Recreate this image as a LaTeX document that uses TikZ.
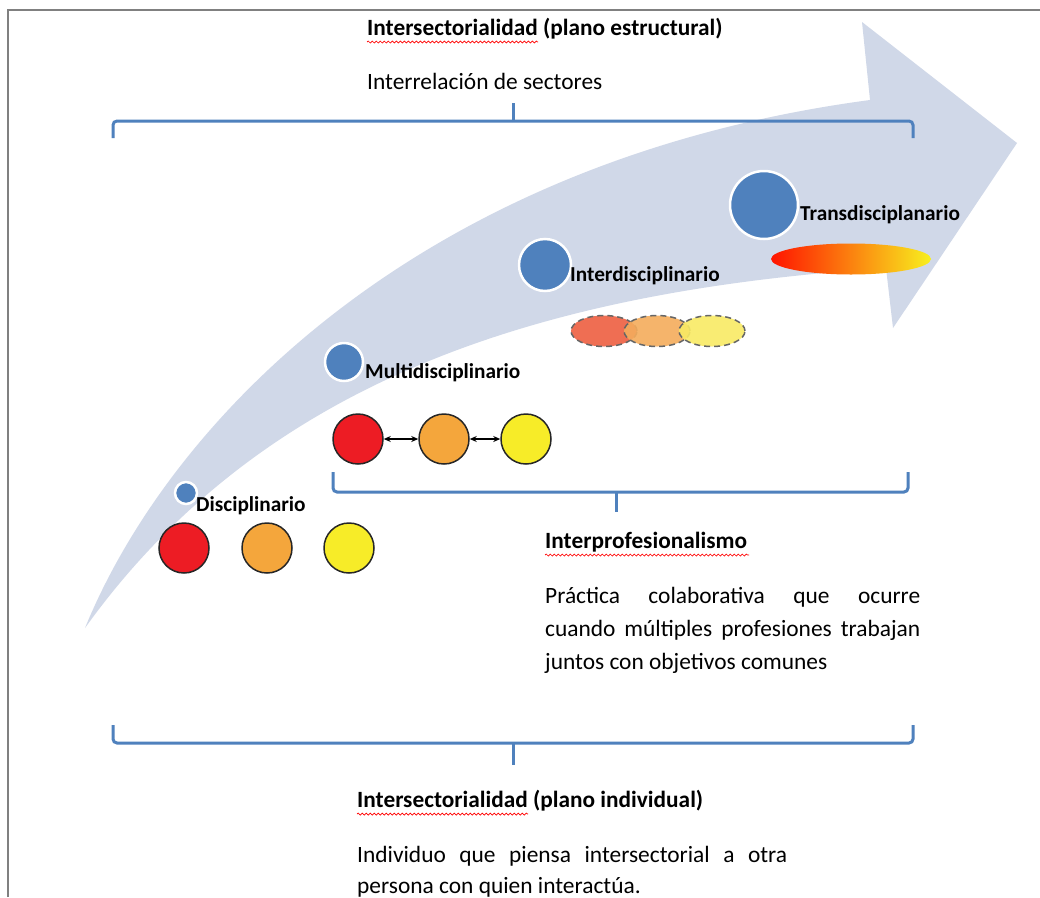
\documentclass[tikz,border=0pt]{standalone}
\usepackage{fontspec}
\setmainfont{Carlito}
\usetikzlibrary{shapes.geometric,decorations.pathmorphing,arrows.meta}
\definecolor{band}{RGB}{208,216,232}
\definecolor{bblue}{RGB}{79,129,189}
\definecolor{cred}{RGB}{237,28,36}
\definecolor{corange}{RGB}{244,166,60}
\definecolor{cyellow}{RGB}{247,236,40}
\definecolor{framec}{RGB}{128,128,128}
\definecolor{ered}{RGB}{238,95,65}
\definecolor{eorange}{RGB}{244,172,92}
\definecolor{eyellow}{RGB}{249,234,100}
\definecolor{gred}{RGB}{255,20,0}
\definecolor{gmid}{RGB}{248,130,20}
\definecolor{gyel}{RGB}{248,240,30}
\begin{document}
\begin{tikzpicture}[x=1pt,y=-1pt,
 brace/.style={draw=bblue, line width=3pt, rounded corners=4pt},
 tick/.style={draw=bblue, line width=3pt},
 dot/.style={circle, fill=bblue, draw=white, line width=2.5pt, inner sep=0pt},
 disc/.style={circle, draw=black!85, line width=1.5pt, inner sep=0pt, minimum size=50pt},
 lbl/.style={anchor=base west, inner sep=0pt, font=\fontsize{21.3}{24}\selectfont\bfseries},
 head/.style={anchor=base west, inner sep=0pt, font=\fontsize{23.3}{33}\selectfont\bfseries},
 body/.style={anchor=base west, inner sep=0pt, font=\fontsize{23.4}{33}\selectfont},
 wavy/.style={draw=red, line width=0.7pt, decorate, decoration={snake, segment length=4pt, amplitude=1pt}},
 ell/.style={ellipse, draw=black!60, dash pattern=on 6pt off 4pt, line width=1.5pt, inner sep=0pt, minimum width=66pt, minimum height=31pt, fill opacity=0.9},
 dbl/.style={{Stealth[length=7pt,width=6pt]}-{Stealth[length=7pt,width=6pt]}, line width=1.3pt, black}]
\useasboundingbox (0,0) rectangle (1040,897);
\fill[white] (0,0) rectangle (1040,897);
\draw[framec, line width=1.5pt] (8,897) -- (8,10) -- (1040,10);
% big curved arrow
\fill[band] (85,628) .. controls (170,420) and (420,160) .. (870,100) -- (862,22) -- (1017,143) -- (893,328) -- (886,268) .. controls (560,290) and (270,370) .. (85,628) -- cycle;
% braces
\draw[brace] (113,138) |- (513,121) -| (913,138);
\draw[tick] (513,122) -- (513,103);
\draw[brace] (333,472) |- (616,492) -| (908,472);
\draw[tick] (616,491) -- (616,512);
\draw[brace] (113,725) |- (513,743) -| (913,725);
\draw[tick] (513,742) -- (513,765);
% top texts
\node[head] (t1) at (367,35) {Intersectorialidad (plano estructural)};
\draw[wavy] (367,42) -- (538,42);
\node[body] (t2) at (367,89) {Interrelación de sectores};
% blue dots and labels
\node[dot, minimum size=22pt] (dd) at (186,493) {};
\node[lbl] (ld) at (196,511) {Disciplinario};
\node[dot, minimum size=38pt] (dm) at (344,362) {};
\node[lbl] (lm) at (365,378) {Multidisciplinario};
\node[dot, minimum size=52pt] (di) at (545,265) {};
\node[lbl] (li) at (570,281) {Interdisciplinario};
\node[dot, minimum size=68pt] (dt) at (764,205) {};
\node[lbl] (lt) at (800,220) {Transdisciplanario};
% disciplinary circles
\node[disc, fill=cred] (c1) at (184,548) {};
\node[disc, fill=corange] (c2) at (267,548) {};
\node[disc, fill=cyellow] (c3) at (349,548) {};
% multidisciplinary circles
\node[disc, fill=cred] (m1) at (358,439) {};
\node[disc, fill=corange] (m2) at (444,439) {};
\node[disc, fill=cyellow] (m3) at (526,439) {};
\draw[dbl] (m1) -- (m2);
\draw[dbl] (m2) -- (m3);
% interdisciplinary ellipses
\node[ell, fill=ered] (e1) at (604,331) {};
\node[ell, fill=eorange] (e2) at (657,331) {};
\node[ell, fill=eyellow] (e3) at (712,331) {};
% transdisciplinary ellipse
\node[ellipse, inner sep=0pt, minimum width=160pt, minimum height=31pt, left color=gred, middle color=gmid, right color=gyel] (et) at (851,259) {};
% interprofesionalismo
\node[head] (ip) at (545,548) {Interprofesionalismo};
\draw[wavy] (545,555) -- (749,555);
\node[body] (p1) at (545,603) {\makebox[375pt][s]{Práctica colaborativa que ocurre}};
\node[body] (p2) at (545,636) {\makebox[375pt][s]{cuando múltiples profesiones trabajan}};
\node[body] (p3) at (545,669) {juntos con objetivos comunes};
% bottom
\node[head] (b1) at (357,807) {Intersectorialidad (plano individual)};
\draw[wavy] (357,814) -- (528,814);
\node[body] (b2) at (357,862) {\makebox[430pt][s]{Individuo que piensa intersectorial a otra}};
\node[body] (b3) at (357,893) {persona con quien interactúa.};
\end{tikzpicture}
\end{document}
